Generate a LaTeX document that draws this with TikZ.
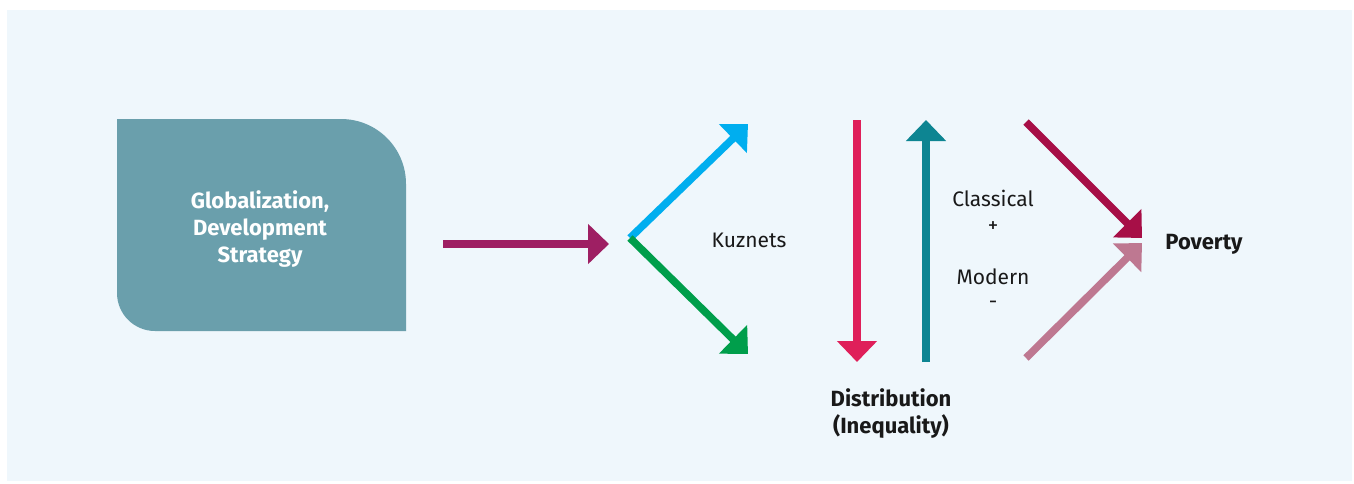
\documentclass[tikz,border=0pt]{standalone}
\usepackage{fontspec}
\setmainfont{Fira Sans}
\usetikzlibrary{arrows.meta}
\definecolor{bgblue}{HTML}{EFF7FC}
\definecolor{boxteal}{HTML}{6A9FAC}
\definecolor{globpurple}{HTML}{9E1F63}
\definecolor{kuzblue}{HTML}{00AEEF}
\definecolor{kuzgreen}{HTML}{009E4B}
\definecolor{distred}{HTML}{DF1F5A}
\definecolor{distteal}{HTML}{0D8592}
\definecolor{classred}{HTML}{A70F47}
\definecolor{modpink}{HTML}{BE7891}
\begin{document}
\begin{tikzpicture}[
  x=0.5pt,y=-0.5pt,
  lbl/.style={font=\fontsize{10.5}{13.5}\selectfont,inner sep=0pt,anchor=base,text=black!90},
  blbl/.style={lbl,font=\fontsize{11}{13.3}\selectfont\bfseries,align=center},
  arr/.style={line width=3.75pt,-{Triangle[length=10.5pt,width=19.5pt]}}
]
\useasboundingbox (0,0) rectangle (1354,483);
\fill[bgblue] (7,10) rectangle (1352,481);
\fill[boxteal] (117,119) -- (341,119) .. controls (377,119) and (406,148) .. (406,184)
  -- (406,331) -- (155,331) .. controls (134,331) and (117,314) .. (117,293) -- cycle;
\node[blbl,text=white] (glob) at (260,262) {Globalization,\\Development\\Strategy};
\node[lbl] (kuz) at (749,247) {Kuznets};
\node[lbl] (classical) at (993,206) {Classical};
\node[lbl] (plus) at (993,232) {+};
\node[lbl] (modern) at (993,284) {Modern};
\node[lbl] (minus) at (993,308) {-};
\node[blbl] (pov) at (1204,249) {Poverty};
\node[blbl] (dist) at (891,433) {Distribution\\(Inequality)};
\coordinate (gs) at (443,244);
\coordinate (ge) at (609,244);
\coordinate (fork) at (630,238);
\coordinate (kup) at (748,124);
\coordinate (kdn) at (748,354);
\coordinate (rtop) at (857,120);
\coordinate (rbot) at (857,362);
\coordinate (tbot) at (926,362);
\coordinate (ttop) at (926,120);
\coordinate (cs) at (1026,122);
\coordinate (ce) at (1142,238);
\coordinate (ms) at (1026,358);
\coordinate (me) at (1142,243);
\draw[arr,globpurple] (gs) -- (ge);
\draw[arr,kuzblue] (fork) -- (kup);
\draw[arr,kuzgreen] (fork) -- (kdn);
\draw[arr,distred] (rtop) -- (rbot);
\draw[arr,distteal] (tbot) -- (ttop);
\draw[arr,classred] (cs) -- (ce);
\draw[arr,modpink] (ms) -- (me);
\end{tikzpicture}
\end{document}
